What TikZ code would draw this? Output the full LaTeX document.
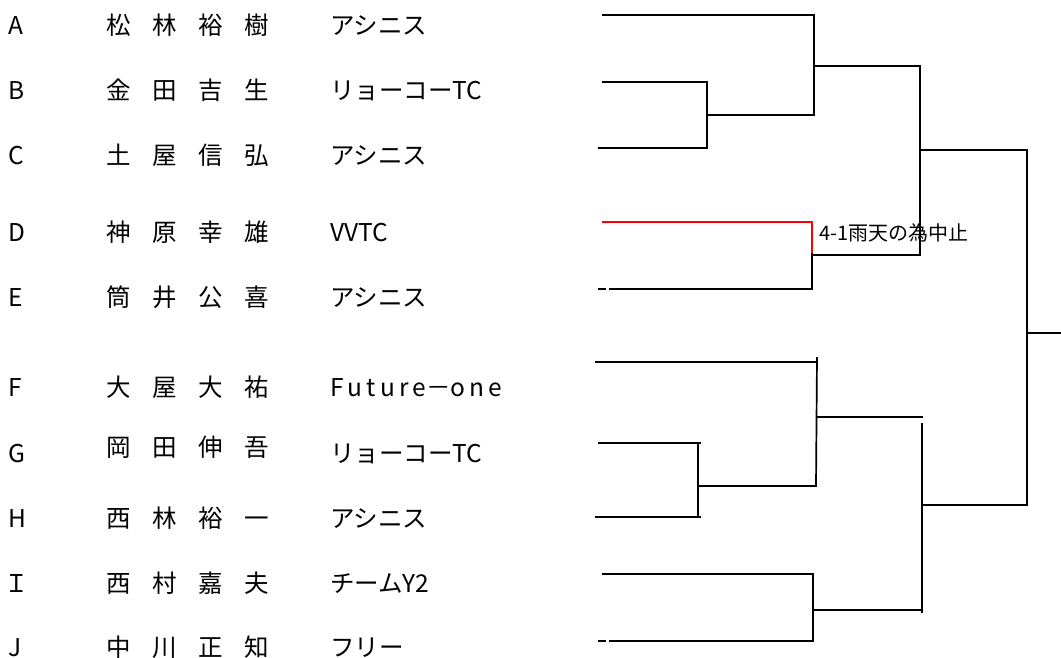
\documentclass[tikz,border=0pt]{standalone}
\usepackage{fontspec}
\setmainfont{Noto Sans CJK JP}
\usetikzlibrary{calc}
\definecolor{ink}{HTML}{000000}
\definecolor{rain}{HTML}{FF0000}
\tikzset{
  brk/.style={draw=ink, line width=1.7pt},
  brkred/.style={draw=rain, line width=1.3pt},
  lbl/.style={anchor=base west, inner sep=0pt, text=ink, font=\fontsize{24.5}{24.5}\selectfont},
  note/.style={anchor=base west, inner sep=0pt, text=ink, font=\fontsize{20}{20}\selectfont}
}
\newcommand{\spname}[4]{#1\hspace{21.5pt}#2\hspace{21.5pt}#3\hspace{21.5pt}#4}

\begin{document}
\begin{tikzpicture}[x=1pt,y=-1pt]
\useasboundingbox (0,0) rectangle (1061,657);

% players
\node[lbl] (la) at (8,34) {A};
\node[lbl] (na) at (106,34) {\spname{松}{林}{裕}{樹}};
\node[lbl] (ta) at (330,34) {アシニス};
\node[lbl] (lb) at (8,99) {B};
\node[lbl] (nb) at (106,99) {\spname{金}{田}{吉}{生}};
\node[lbl] (tb) at (330,99) {リョーコーTC};
\node[lbl] (lc) at (8,164) {C};
\node[lbl] (nc) at (106,164) {\spname{土}{屋}{信}{弘}};
\node[lbl] (tc) at (330,164) {アシニス};
\node[lbl] (ld) at (8,241) {D};
\node[lbl] (nd) at (106,241) {\spname{神}{原}{幸}{雄}};
\node[lbl] (td) at (330,241) {VVTC};
\node[lbl] (le) at (8,306) {E};
\node[lbl] (ne) at (106,306) {\spname{筒}{井}{公}{喜}};
\node[lbl] (te) at (330,306) {アシニス};
\node[lbl] (lf) at (8,396) {F};
\node[lbl] (nf) at (106,396) {\spname{大}{屋}{大}{祐}};
\node[lbl] (tf) at (330,396) {F\,u\,t\,u\,r\,e－o\,n\,e};
\node[lbl] (lg) at (8,462) {G};
\node[lbl] (ng) at (106,456) {\spname{岡}{田}{伸}{吾}};
\node[lbl] (tg) at (330,462) {リョーコーTC};
\node[lbl] (lh) at (8,527) {H};
\node[lbl] (nh) at (106,527) {\spname{西}{林}{裕}{一}};
\node[lbl] (th) at (330,527) {アシニス};
\node[lbl] (li) at (4,592) {Ｉ};
\node[lbl] (ni) at (106,592) {\spname{西}{村}{嘉}{夫}};
\node[lbl] (ti) at (330,592) {チームY2};
\node[lbl] (lj) at (8,656) {J};
\node[lbl] (nj) at (106,656) {\spname{中}{川}{正}{知}};
\node[lbl] (tj) at (330,656) {フリー};

% first round
\coordinate (pa) at (602,15);
\coordinate (pb) at (602,82);
\coordinate (pc) at (598,148);
\coordinate (pd) at (602,222);
\coordinate (pe) at (609,289);
\coordinate (pf) at (595,362);
\coordinate (pg) at (598,443);
\coordinate (ph) at (595,517);
\coordinate (pi) at (602,574);
\coordinate (pj) at (609,641);

\draw[brk] (pb) -- (707,82) -- (707,148) -- (pc);
\coordinate (wbc) at (707,115);
\draw[brk] (pa) -- (814,15) -- (814,115) -- (wbc);
\coordinate (wabc) at (814,66);

\draw[brkred] (pd) -- (812,222) -- (812,253);
\draw[brk] (812,253) -- (812,289) -- (pe);
\draw[brk] (598,289) -- (606,289);
\coordinate (wde) at (812,255);

\draw[brk] (pg) -- (701,443);
\draw[brk] (ph) -- (701,517);
\draw[brk] (698,443) -- (698,517);
\coordinate (wgh) at (698,486);
\draw[brk] (pf) -- (817,362);
\draw[brk] (817,357) -- (816,486) -- (wgh);
\coordinate (wfgh) at (817,417);

\draw[brk] (pi) -- (813,574) -- (813,641) -- (pj);
\draw[brk] (598,641) -- (606,641);
\coordinate (wij) at (813,610);

% later rounds
\draw[brk] (wabc) -- (920,66) -- (920,255) -- (wde);
\coordinate (wtop) at (920,150);
\draw[brk] (wfgh) -- (923,417);
\draw[brk] (922,423) -- (922,613);
\draw[brk] (wij) -- (922,610);
\coordinate (wbot) at (922,505);

\draw[brk] (wtop) -- (1027,150) -- (1027,505) -- (wbot);
\coordinate (fin) at (1061,333);
\draw[brk] (1027,333) -- (fin);

\node[note] (rain) at (819,240) {4-1雨天の為中止};
\end{tikzpicture}
\end{document}
